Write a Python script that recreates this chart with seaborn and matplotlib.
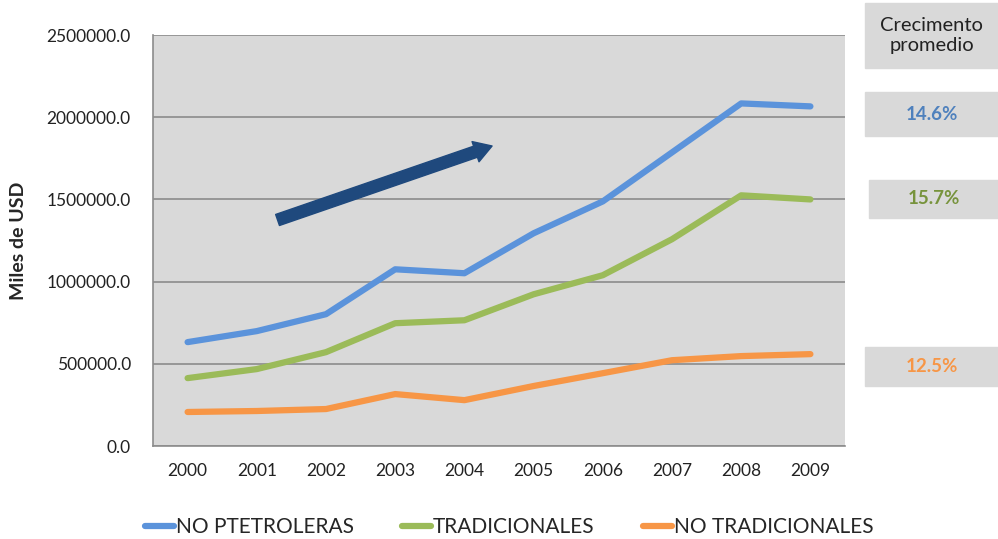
import pandas as pd
import numpy as np
import matplotlib
matplotlib.use('Agg')
import matplotlib.pyplot as plt
import seaborn as sns

# data (Miles de USD)
years = ['2000', '2001', '2002', '2003', '2004', '2005', '2006', '2007', '2008', '2009']
no_petroleras = [632000, 699000, 802000, 1075000, 1051000, 1294000, 1488000, 1786000, 2084000, 2066000]
tradicionales = [413000, 468000, 571000, 747000, 765000, 923000, 1039000, 1258000, 1525000, 1500000]
no_tradicionales = [207000, 213000, 225000, 316000, 279000, 365000, 443000, 522000, 547000, 559000]
series_names = ['NO PTETROLERAS', 'TRADICIONALES', 'NO TRADICIONALES']
growth_labels = ['14.6%', '15.7%', '12.5%']
colors = ['#5B93DB', '#9BBB59', '#F79646']
text_colors = ['#4F81BD', '#77933C', '#F79646']

df = pd.DataFrame({
    'year': years * 3,
    'value': no_petroleras + tradicionales + no_tradicionales,
    'serie': [series_names[0]] * 10 + [series_names[1]] * 10 + [series_names[2]] * 10,
})

sns.set_theme(style='white')
plt.rcParams['font.family'] = ['Lato', 'DejaVu Sans']

fig = plt.figure(figsize=(9.98, 5.39), dpi=100)
ax = fig.add_axes([0.1533, 0.1725, 0.6934, 0.7625])
ax.set_facecolor('#D9D9D9')

sns.lineplot(data=df, x='year', y='value', hue='serie', palette=colors,
             linewidth=4.5, ax=ax, sort=False, legend=False)

ax.set_xlim(-0.5, 9.5)
ax.set_ylim(0, 2500000)
ax.set_yticks(np.arange(0, 2500001, 500000))
ax.set_yticklabels([f'{v:.1f}' for v in np.arange(0, 2500001, 500000)])
ax.yaxis.grid(True, color='#8C8C8C', linewidth=1.2)
ax.set_axisbelow(True)
ax.tick_params(axis='both', labelsize=12.5, colors='#222222', length=0)
ax.tick_params(axis='y', pad=16)
ax.tick_params(axis='x', pad=12)
ax.set_xlabel('')
ax.set_ylabel('Miles de USD', fontsize=14, fontweight='bold', labelpad=14)
for s in ['top', 'right']:
    ax.spines[s].set_visible(False)
for s in ['left', 'bottom']:
    ax.spines[s].set_color('#8C8C8C')
    ax.spines[s].set_linewidth(1.2)

# trend arrow
ax.annotate('', xy=(0.49, 0.73), xytext=(0.18, 0.55), xycoords='axes fraction',
            arrowprops=dict(arrowstyle='simple,head_length=0.9,head_width=1.1,tail_width=0.6',
                            color='#1F497D', shrinkA=0, shrinkB=0, mutation_scale=14))

# growth boxes on the right
def side_box(x0, y0, x1, y1, label, color, size, weight):
    fig.patches.append(plt.Rectangle((x0 / 998, 1 - y1 / 539), (x1 - x0) / 998, (y1 - y0) / 539,
                                     transform=fig.transFigure, color='#D9D9D9', zorder=0))
    fig.text((x0 + x1) / 2 / 998, 1 - (y0 + y1) / 2 / 539, label, ha='center', va='center',
             color=color, fontsize=size, fontweight=weight, linespacing=1.15)

side_box(865, 3, 998, 68, 'Crecimento\npromedio', '#222222', 14.5, 'normal')
side_box(865, 92, 998, 136, growth_labels[0], text_colors[0], 13.5, 'bold')
side_box(869, 180, 998, 218, growth_labels[1], text_colors[1], 13.5, 'bold')
side_box(865, 347, 998, 386, growth_labels[2], text_colors[2], 13.5, 'bold')

handles = [plt.Line2D([], [], color=c, linewidth=4.5) for c in colors]
fig.legend(handles, series_names, loc='lower center', bbox_to_anchor=(0.51, -0.032), ncol=3,
           frameon=False, fontsize=15, handlelength=1.4, handletextpad=0.1, columnspacing=2.3)

plt.savefig('out.png', dpi=100)
plt.close()
